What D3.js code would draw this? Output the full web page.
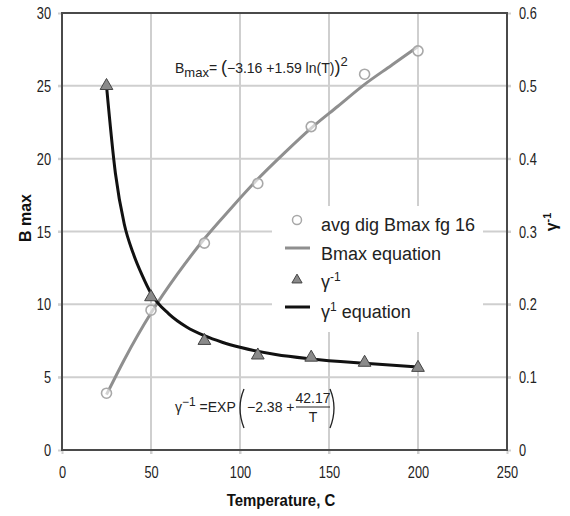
<!DOCTYPE html>
<html><head><meta charset="utf-8">
<script src="https://cdn.jsdelivr.net/npm/d3@7"></script>
<style>
body{margin:0;background:#fff;}
text{font-family:"Liberation Sans",Arial,sans-serif;}
</style></head>
<body><svg id="c" width="570" height="516"></svg>
<script>
// ---- data ----
const tempPts = [25, 50, 80, 110, 140, 170, 200];
const bmaxPts = [3.9, 9.6, 14.2, 18.3, 22.2, 25.8, 27.4];
const gammaPts = [0.5, 0.21, 0.15, 0.13, 0.127, 0.12, 0.113];
const bmaxEqT = [25, 35, 50, 65, 80, 95, 110, 125, 140, 155, 170, 185, 200];
const bmaxEqV = [3.8, 6.2, 9.4, 12.1, 14.5, 16.6, 18.6, 20.4, 22.1, 23.6, 25.1, 26.4, 27.7];
const gammaEqT = [25, 30, 35, 40, 45, 50, 60, 70, 80, 90, 100, 120, 140, 170, 200];
const gammaEqV = [0.50, 0.38, 0.31, 0.27, 0.24, 0.215, 0.187, 0.169, 0.157, 0.148, 0.141, 0.131, 0.125, 0.119, 0.114];
const xTicks = [0, 50, 100, 150, 200, 250];
const yLeftTicks = [0, 5, 10, 15, 20, 25, 30];
const yRightTicks = [0, 0.1, 0.2, 0.3, 0.4, 0.5, 0.6];

const svg = d3.select("#c");
const L = 62, R = 507, T = 13, B = 450;
const x = d3.scaleLinear().domain([0, 250]).range([L, R]);
const yL = d3.scaleLinear().domain([0, 30]).range([B, T]);
const yR = d3.scaleLinear().domain([0, 0.6]).range([B, T]);

// gridlines
const grid = svg.append("g");
grid.selectAll(".gx").data(xTicks.slice(1, -1)).enter().append("line")
  .attr("x1", d => x(d)).attr("x2", d => x(d)).attr("y1", T).attr("y2", B + 4)
  .attr("stroke", "#cfcfcf").attr("stroke-width", 2);
grid.selectAll(".gy").data(yLeftTicks.slice(1, -1)).enter().append("line")
  .attr("x1", L - 4).attr("x2", R + 4).attr("y1", d => yL(d)).attr("y2", d => yL(d))
  .attr("stroke", "#cfcfcf").attr("stroke-width", 2);

// axes
const ax = d3.axisBottom(x).tickValues(xTicks).tickSize(4).tickFormat(d3.format("d"));
const gx = svg.append("g").attr("transform", `translate(0,${B})`).call(ax);
const ayl = d3.axisLeft(yL).tickValues(yLeftTicks).tickSize(4).tickFormat(d3.format("d"));
const gyl = svg.append("g").attr("transform", `translate(${L},0)`).call(ayl);
const ayr = d3.axisRight(yR).tickValues(yRightTicks).tickSize(4).tickFormat(d => d === 0 ? "0" : d3.format(".1f")(d));
const gyr = svg.append("g").attr("transform", `translate(${R},0)`).call(ayr);
[gx, gyl, gyr].forEach(g => {
  g.select(".domain").remove();
  g.selectAll(".tick line").attr("stroke", "#cfcfcf").attr("stroke-width", 2);
  g.selectAll(".tick text").attr("fill", "#222").style("font-size", "16px");
});
gx.selectAll(".tick text").attr("y", 0).attr("dy", 0)
  .attr("transform", "translate(0,28) scale(0.8,1)");
gyl.selectAll(".tick text").attr("x", 0).attr("dy", "0.35em")
  .attr("transform", "translate(-11,0) scale(0.8,1)");
gyr.selectAll(".tick text").attr("x", 0).attr("dy", "0.35em")
  .attr("transform", "translate(12,0) scale(0.8,1)");

// frame
svg.append("rect").attr("x", L).attr("y", T).attr("width", R - L).attr("height", B - T)
  .attr("fill", "none").attr("stroke", "#4a4a4a").attr("stroke-width", 2);

// axis titles
svg.append("text").attr("x", 281).attr("y", 506).attr("text-anchor", "middle")
  .attr("font-weight", "bold").style("font-size", "17px").attr("fill", "#111")
  .attr("transform", "translate(281,0) scale(0.88,1) translate(-281,0)")
  .text("Temperature, C");
svg.append("text").attr("transform", "translate(31,218) rotate(-90)")
  .attr("text-anchor", "middle").attr("font-weight", "bold").style("font-size", "16px").attr("fill", "#111")
  .text("B max");
const rt = svg.append("text").attr("transform", "translate(557,222) rotate(-90)")
  .attr("text-anchor", "middle").attr("font-weight", "bold").style("font-size", "16px").attr("fill", "#111");
rt.append("tspan").text("γ");
rt.append("tspan").attr("dy", -6).style("font-size", "11px").text("-1");

// lines
const lineL = d3.line().x(d => x(d[0])).y(d => yL(d[1])).curve(d3.curveMonotoneX);
const lineR = d3.line().x(d => x(d[0])).y(d => yR(d[1])).curve(d3.curveMonotoneX);
svg.append("path").datum(d3.zip(bmaxEqT, bmaxEqV)).attr("d", lineL)
  .attr("fill", "none").attr("stroke", "#8f8f8f").attr("stroke-width", 3);
svg.append("path").datum(d3.zip(gammaEqT, gammaEqV)).attr("d", lineR)
  .attr("fill", "none").attr("stroke", "#111").attr("stroke-width", 3);

// markers
svg.selectAll(".circ").data(d3.zip(tempPts, bmaxPts)).enter().append("circle")
  .attr("cx", d => x(d[0])).attr("cy", d => yL(d[1])).attr("r", 5)
  .attr("fill", "#fff").attr("fill-opacity", 0.6).attr("stroke", "#a8a8a8").attr("stroke-width", 1.6);
const tri = d3.symbol().type(d3.symbolTriangle).size(70);
svg.selectAll(".tri").data(d3.zip(tempPts, gammaPts)).enter().append("path")
  .attr("d", tri).attr("transform", d => `translate(${x(d[0])},${yR(d[1])})`)
  .attr("fill", "#8a8a8a").attr("stroke", "#444").attr("stroke-width", 1);

// legend
const lg = svg.append("g");
lg.append("rect").attr("x", 272).attr("y", 206).attr("width", 211).attr("height", 126).attr("fill", "#fff");
lg.append("circle").attr("cx", 297).attr("cy", 220).attr("r", 4.5).attr("fill", "#fff").attr("stroke", "#a8a8a8").attr("stroke-width", 1.5);
lg.append("line").attr("x1", 285).attr("x2", 310).attr("y1", 248).attr("y2", 248).attr("stroke", "#8f8f8f").attr("stroke-width", 3);
lg.append("path").attr("d", d3.symbol().type(d3.symbolTriangle).size(45)).attr("transform", "translate(297,280)")
  .attr("fill", "#8a8a8a").attr("stroke", "#444").attr("stroke-width", 1);
lg.append("line").attr("x1", 285).attr("x2", 310).attr("y1", 307).attr("y2", 307).attr("stroke", "#111").attr("stroke-width", 3);
const lt = (y) => lg.append("text").attr("x", 321).attr("y", y).style("font-size", "18px").attr("fill", "#222");
lt(231).text("avg dig Bmax fg 16");
lt(260).text("Bmax equation");
const l3 = lt(288); l3.append("tspan").text("γ"); l3.append("tspan").attr("dy", -7).style("font-size", "12px").text("-1");
const l4 = lt(318); l4.append("tspan").text("γ"); l4.append("tspan").attr("dy", -7).style("font-size", "12px").text("1");
l4.append("tspan").attr("dy", 7).text(" equation");

// equation 1
const e1 = svg.append("text").attr("x", 175).attr("y", 73).style("font-size", "14px").attr("fill", "#222");
e1.append("tspan").text("B");
e1.append("tspan").attr("dy", 4).style("font-size", "13px").text("max");
e1.append("tspan").attr("dy", -4).text("= ");
e1.append("tspan").style("font-size", "18px").text("(");
e1.append("tspan").text("−3.16 +1.59 ln(T)");
e1.append("tspan").style("font-size", "18px").text(")");
e1.append("tspan").attr("dy", -7).style("font-size", "13px").text("2");

// equation 2
const e2 = svg.append("text").attr("x", 175).attr("y", 412).style("font-size", "14px").attr("fill", "#222");
e2.append("tspan").text("γ");
e2.append("tspan").attr("dy", -6).style("font-size", "12px").text("−1");
e2.append("tspan").attr("dy", 6).text(" =EXP");
const lp = 240, rp = 334;
svg.append("path").attr("d", `M${lp + 4},389 Q${lp - 4},408 ${lp + 4},428`).attr("fill", "none").attr("stroke", "#222").attr("stroke-width", 1.3);
svg.append("path").attr("d", `M${rp - 4},389 Q${rp + 4},408 ${rp - 4},428`).attr("fill", "none").attr("stroke", "#222").attr("stroke-width", 1.3);
svg.append("text").attr("x", 247).attr("y", 412).style("font-size", "14px").attr("fill", "#222").text("−2.38 +");
svg.append("text").attr("x", 313).attr("y", 403).attr("text-anchor", "middle").style("font-size", "14px").attr("fill", "#222").text("42.17");
svg.append("line").attr("x1", 296).attr("x2", 330).attr("y1", 407).attr("y2", 407).attr("stroke", "#222").attr("stroke-width", 1);
svg.append("text").attr("x", 313).attr("y", 422).attr("text-anchor", "middle").style("font-size", "14px").attr("fill", "#222").text("T");
</script></body></html>
